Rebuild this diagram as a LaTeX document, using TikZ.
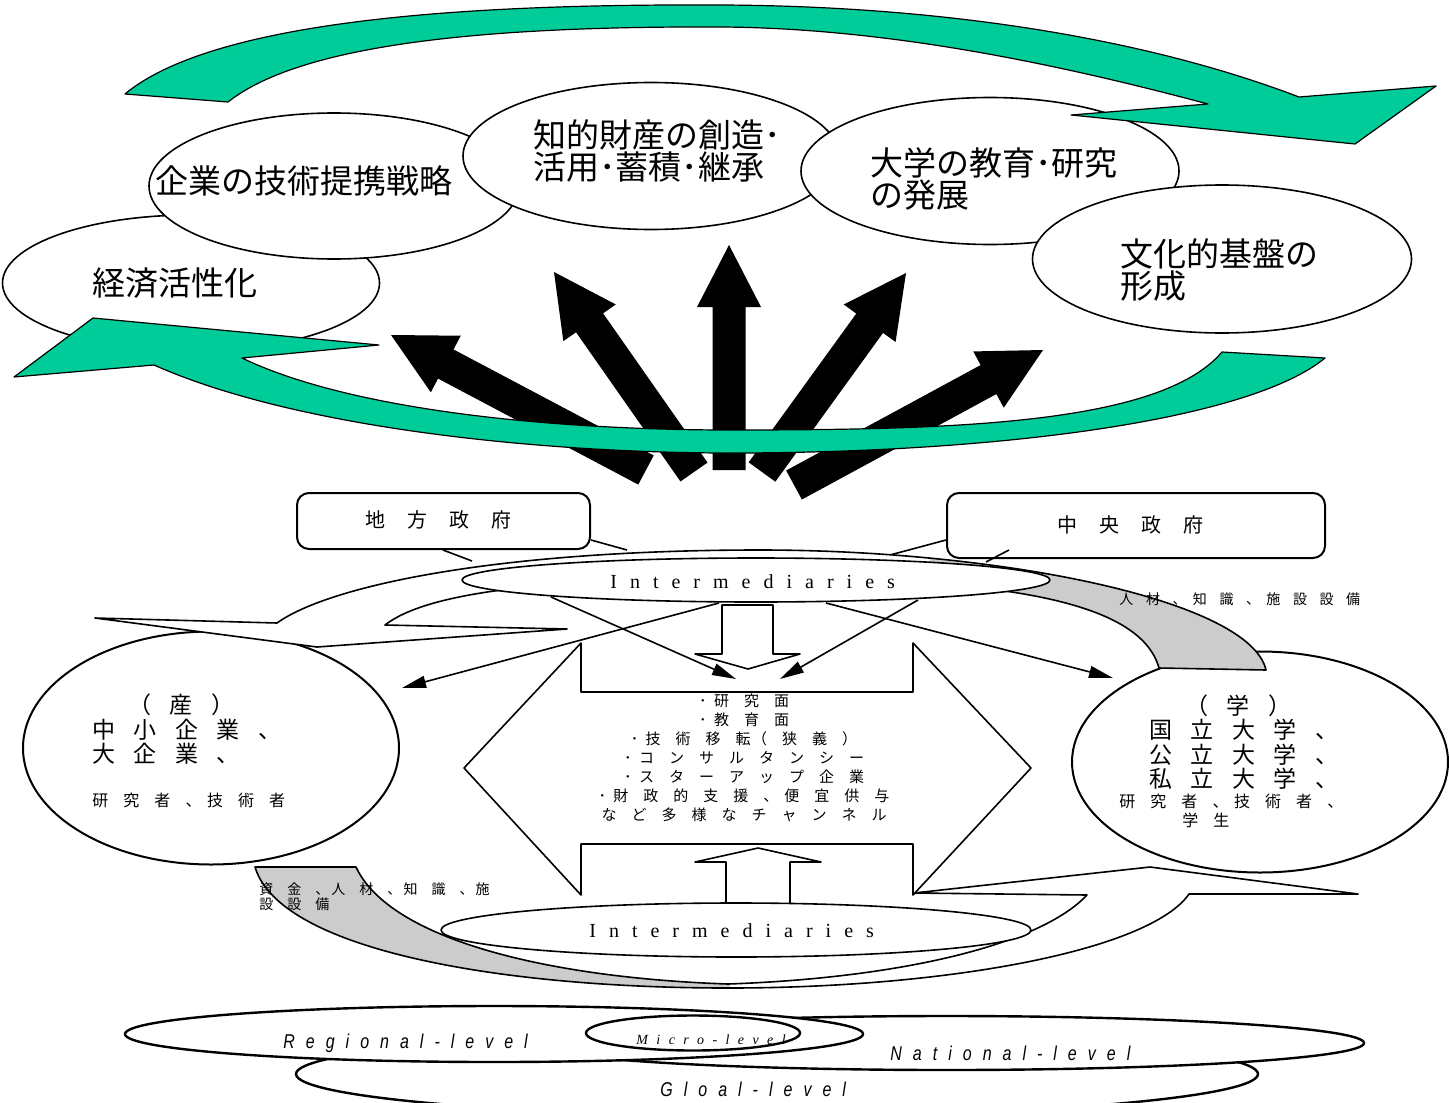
\documentclass[tikz,border=0pt]{standalone}
\usepackage{fontspec}
\setmainfont{Liberation Serif}
\newfontfamily\jp{Noto Sans CJK JP}
\newfontfamily\interfont{Liberation Serif}
\newfontfamily\lvlfont[FakeStretch=0.8]{Liberation Sans}
\newfontfamily\microfont{Liberation Serif}
\usetikzlibrary{shapes.geometric,arrows.meta,calc}
\definecolor{grn}{RGB}{0,204,153}
\definecolor{gry}{RGB}{204,204,204}
\makeatletter
\def\lsp#1#2{\def\lsp@sep{\kern#1\relax}\lsp@loop#2\lsp@end}
\def\lsp@end{\lsp@end@}
\def\lsp@loop#1#2{#1\ifx\lsp@end#2\expandafter\@gobble\else\lsp@sep\expandafter\lsp@loop\fi#2}
\makeatother
\newcommand\blkarrow[2]{%
  \coordinate (hb) at ($(#2)!31pt!(#1)$);
  \fill[black] ($(#1)!8.25pt!90:(#2)$) -- ($(hb)!8.25pt!90:(#2)$) -- ($(hb)!16pt!90:(#2)$) -- (#2)
    -- ($(hb)!16pt!-90:(#2)$) -- ($(hb)!8.25pt!-90:(#2)$) -- ($(#1)!8.25pt!-90:(#2)$) -- cycle;}
\begin{document}
\begin{tikzpicture}[x=0.5pt,y=-0.5pt,line join=round,
  ell/.style={ellipse,draw,fill=white,inner sep=0pt,line width=0.8pt},
  topt/.style={font=\jp\fontsize{16.5pt}{16pt}\selectfont,align=left,inner sep=0pt,anchor=west},
  govbox/.style={draw,fill=white,rounded corners=6pt,line width=1pt,inner sep=0pt},
  wire/.style={line width=0.8pt},
  flow/.style={line width=0.8pt,-{Triangle[length=12pt,width=6pt]}},
  lvl/.style={ellipse,draw,fill=white,inner sep=0pt,line width=1.2pt},
  txt/.style={inner sep=0pt,anchor=west},
  govt/.style={txt,font=\jp\fontsize{10pt}{10pt}\selectfont},
  bigt/.style={txt,font=\jp\fontsize{11.5pt}{11.5pt}\selectfont},
  midt/.style={txt,font=\jp\fontsize{8pt}{8pt}\selectfont},
  intt/.style={txt,font=\interfont\fontsize{10pt}{10pt}\selectfont},
  lvlt/.style={txt,font=\lvlfont\itshape\fontsize{10pt}{10pt}\selectfont}]
\useasboundingbox (0,0) rectangle (1449,1102);
\fill[white] (0,0) rectangle (1449,1102);

% ---------- top ellipses ----------
\node[ell,minimum width=188.5pt,minimum height=68pt] (econ) at (191,283) {};
\node[topt] (t1) at (92,283) {経済活性化};
\node[ell,minimum width=185pt,minimum height=73pt] (corp) at (334,186) {};
\node[topt] (t2) at (155,181) {企業の技術提携戦略};
\node[ell,minimum width=188pt,minimum height=73.5pt] (ip) at (651,156) {};
\node[topt] (t3) at (533,151) {知的財産の創造･\\活用･蓄積･継承};
\node[ell,minimum width=189pt,minimum height=73.5pt] (univ) at (990,171) {};
\node[topt] (t4) at (870,179) {大学の教育･研究\\の発展};
\node[ell,minimum width=189.5pt,minimum height=74pt] (cult) at (1222,259) {};
\node[topt] (t5) at (1120,270) {文化的基盤の\\形成};

% ---------- black fan arrows ----------
\coordinate (ab1) at (646,470); \coordinate (at1) at (391,335);
\coordinate (ab2) at (694,472); \coordinate (at2) at (554,272);
\coordinate (ab3) at (729,470); \coordinate (at3) at (729,245);
\coordinate (ab4) at (762,472); \coordinate (at4) at (906,273);
\coordinate (ab5) at (794,485); \coordinate (at5) at (1043,350);
\blkarrow{ab1}{at1}
\blkarrow{ab2}{at2}
\blkarrow{ab3}{at3}
\blkarrow{ab4}{at4}
\blkarrow{ab5}{at5}

% ---------- green curved arrows ----------
\filldraw[fill=grn,draw=black,line width=0.6pt]
  (125,94) .. controls (220,15) and (500,4) .. (720,5)
  .. controls (950,6) and (1150,40) .. (1299,97)
  -- (1436,86) -- (1355,144) -- (1071,115) -- (1208,104)
  .. controls (1080,70) and (900,28) .. (720,27)
  .. controls (480,26) and (300,45) .. (228,102) -- cycle;
\filldraw[fill=grn,draw=black,line width=0.6pt]
  (154,365) .. controls (300,430) and (550,453) .. (730,453)
  .. controls (1000,453) and (1250,420) .. (1325,358)
  -- (1222,352) .. controls (1160,425) and (950,430) .. (730,430)
  .. controls (550,430) and (350,410) .. (242,358)
  -- (379,345) -- (93,318) -- (14,377) -- cycle;

% ---------- government boxes ----------
\coordinate (cl1) at (472,561); \coordinate (cl2) at (627,550);
\coordinate (cl3) at (890,555); \coordinate (cl4) at (986,562);
\node[govbox,minimum width=146.5pt,minimum height=28pt] (chiho) at (443.5,521) {};
\node[govbox,minimum width=189pt,minimum height=32.5pt] (chuo) at (1136,525.5) {};
\draw[wire] (chiho.south west) ++(147,0) -- (cl1);
\draw[wire] (chiho.east) ++(0,19) -- (cl2);
\draw[wire] (chuo.west) ++(0,14.5) -- (cl3);
\draw[wire] (chuo.south west) ++(63,-9) -- (cl4);
\node[govt] (cht) at (365,520) {\lsp{1.1em}{地方政府}};
\node[govt] (cot) at (1057,525) {\lsp{1.1em}{中央政府}};

% ---------- actor ellipses ----------
\node[ell,line width=1pt,minimum width=188pt,minimum height=116.5pt] (san) at (211,748) {};
\node[ell,line width=1pt,minimum width=188pt,minimum height=110.5pt] (gaku) at (1260,762) {};

% ---------- lower curved arrow (gray -> white) ----------
\path[save path=\lowband]
  (255,867) .. controls (280,950) and (500,988) .. (728,988)
  .. controls (950,988) and (1150,950) .. (1189,894)
  -- (1358,894) -- (1150,867) -- (914,893) -- (1087,895)
  .. controls (1040,945) and (900,978) .. (728,984)
  .. controls (550,978) and (390,940) .. (356,867) -- cycle;
\fill[white,use path=\lowband];
\begin{scope}
  \clip (0,850) rectangle (730,1000);
  \fill[gry,use path=\lowband];
\end{scope}
\draw[wire,use path=\lowband];

% ---------- upper curved arrow (white -> gray) ----------
\path[save path=\upband]
  (277,623) .. controls (330,585) and (500,550) .. (760,550)
  .. controls (1000,550) and (1250,600) .. (1266,670)
  -- (1159,668) .. controls (1140,600) and (1000,578) .. (760,578)
  .. controls (560,578) and (430,590) .. (385,625)
  -- (567,629) -- (317,647) -- (95,618) -- cycle;
\fill[white,use path=\upband];
\begin{scope}
  \clip (930,500) rectangle (1300,700);
  \fill[gry,use path=\upband];
\end{scope}
\draw[wire,use path=\upband];

% ---------- central channel shape ----------
\filldraw[wire,fill=white] (581,643) -- (581,692) -- (913,692) -- (913,643) -- (1031,768)
  -- (913,895) -- (913,844) -- (581,844) -- (581,895) -- (464,768) -- cycle;

% ---------- upper intermediaries ----------
\coordinate (f1) at (551,597); \coordinate (f2) at (918,600);
\coordinate (f3) at (719,603); \coordinate (f4) at (826,603);
\coordinate (h1) at (736,679); \coordinate (h2) at (780,679);
\coordinate (h3) at (402,688); \coordinate (h4) at (1113,678);
\draw[flow] (f1) -- (h1);
\draw[flow] (f2) -- (h2);
\draw[flow] (f3) -- (h3);
\draw[flow] (f4) -- (h4);
\node[ell,minimum width=294pt,minimum height=22pt] (imu) at (756,580) {};
\node[intt] (imut) at (610,582) {\lsp{.65em}{Intermediaries}};
\filldraw[wire,fill=white] (722,605) -- (722,654) -- (695,654) -- (748,669) -- (800,654) -- (773,654) -- (773,605) -- cycle;

% ---------- lower intermediaries ----------
\filldraw[wire,fill=white] (726,905) -- (726,862) -- (695,862) -- (758,848) -- (821,862) -- (790,862) -- (790,905) -- cycle;
\node[ell,minimum width=295pt,minimum height=27pt] (iml) at (736,930) {};
\node[intt] (imlt) at (589,931) {\lsp{.65em}{Intermediaries}};

% ---------- texts ----------
\node[txt,font=\jp\fontsize{7pt}{7pt}\selectfont] (res1) at (1119,599)
  {\lsp{.9em}{人材、}\kern.45em\lsp{.9em}{知識、}\kern.45em\lsp{.9em}{施設設備}};
\node[txt,align=left,font=\jp\fontsize{7pt}{7.5pt}\selectfont] (res2) at (259,897)
  {\lsp{1em}{資金、}\kern.15em\lsp{1em}{人材、}\kern.15em\lsp{1em}{知識、}\kern.15em\lsp{1em}{施}\\\lsp{1em}{設設備}};
\node[inner sep=0pt,align=center,font=\jp\fontsize{7.5pt}{9.5pt}\selectfont] (chan) at (744,757.5)
  {･\kern.5em\lsp{1em}{研究面}\\
   ･\kern.5em\lsp{1em}{教育面}\\
   ･\kern.5em\lsp{1em}{技術移転}\kern.1em\lsp{1em}{（狭義）}\\
   ･\kern.5em\lsp{1em}{コンサルタンシー}\\
   ･\kern.5em\lsp{1em}{スターアップ企業}\\
   ･\kern.5em\lsp{1em}{財政的支援、}\kern.4em\lsp{1em}{便宜供与}\\
   \lsp{1em}{など多様なチャンネル}};

\node[bigt] (s0) at (128,705) {\lsp{.8em}{（産）}};
\node[bigt] (s1) at (92,730) {\lsp{.8em}{中小企業、}};
\node[bigt] (s2) at (92,754) {\lsp{.8em}{大企業、}};
\node[midt] (s3) at (92,800) {\lsp{.94em}{研究者、}\kern.35em\lsp{.94em}{技術者}};

\node[bigt] (g0) at (1185,706) {\lsp{.8em}{（学）}};
\node[bigt] (g1) at (1149,730) {\lsp{.8em}{国立大学、}};
\node[bigt] (g2) at (1149,755) {\lsp{.8em}{公立大学、}};
\node[bigt] (g3) at (1149,779) {\lsp{.8em}{私立大学、}};
\node[midt] (g4) at (1119,801) {\lsp{.94em}{研究者、}\kern.35em\lsp{.94em}{技術者、}};
\node[midt] (g5) at (1182,820) {\lsp{.94em}{学生}};

% ---------- levels ----------
\node[lvl,minimum width=481pt,minimum height=42pt] (glob) at (777,1074) {};
\node[lvl,minimum width=417pt,minimum height=27pt] (nat) at (947,1043) {};
\node[lvl,minimum width=369pt,minimum height=28pt] (reg) at (494,1034) {};
\node[lvl,minimum width=107pt,minimum height=17.5pt] (mic) at (693,1033) {};
\node[lvlt] (regt) at (283,1043) {\lsp{.55em}{Regional-level}};
\node[lvlt] (natt) at (890,1053) {\lsp{.55em}{National-level}};
\node[lvlt] (glot) at (660,1089) {\lsp{.55em}{Gloal-level}};
\node[txt,font=\microfont\itshape\fontsize{7pt}{7pt}\selectfont] (mict) at (636,1040) {\lsp{.6em}{Micro-level}};
\end{tikzpicture}
\end{document}
